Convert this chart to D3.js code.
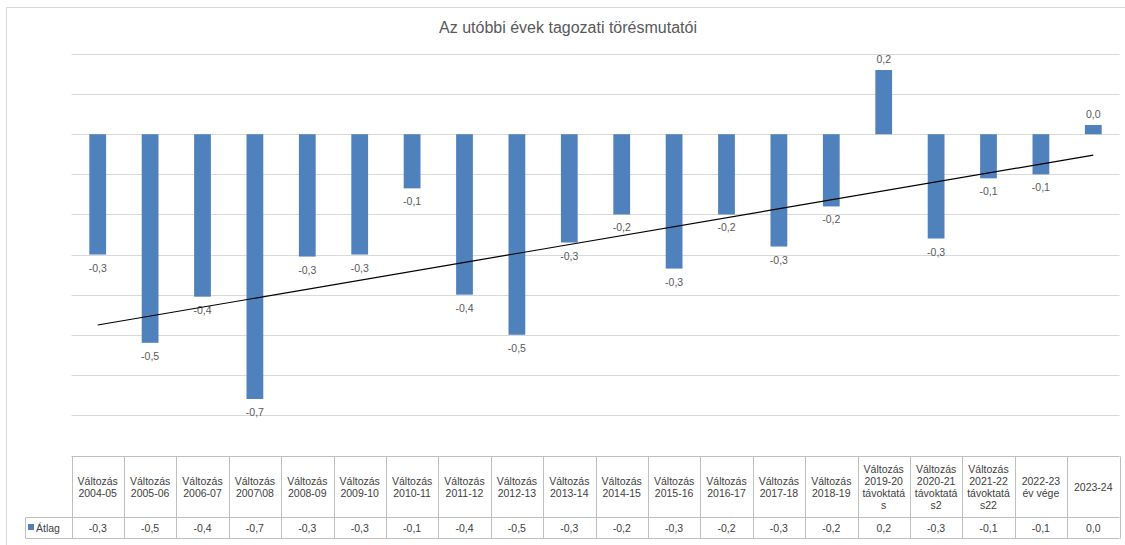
<!DOCTYPE html>
<html>
<head>
<meta charset="utf-8">
<script src="https://cdn.jsdelivr.net/npm/d3@7"></script>
<style>
  body { margin: 0; background: #fff; }
  svg { display: block; font-family: "Liberation Sans", Arial, sans-serif; }
</style>
</head>
<body>
<svg width="1125" height="545"></svg>
<script>
// categories as they appear in the data table (lines split like Excel wraps them)
var categories = [
  ["Változás", "2004-05"], ["Változás", "2005-06"], ["Változás", "2006-07"],
  ["Változás", "2007\\08"], ["Változás", "2008-09"], ["Változás", "2009-10"],
  ["Változás", "2010-11"], ["Változás", "2011-12"], ["Változás", "2012-13"],
  ["Változás", "2013-14"], ["Változás", "2014-15"], ["Változás", "2015-16"],
  ["Változás", "2016-17"], ["Változás", "2017-18"], ["Változás", "2018-19"],
  ["Változás", "2019-20", "távoktatá", "s"],
  ["Változás", "2020-21", "távoktatá", "s2"],
  ["Változás", "2021-22", "távoktatá", "s22"],
  ["2022-23", "év vége"], ["2023-24"]
];

// Átlag series
var atlag = [-0.30, -0.52, -0.405, -0.66, -0.305, -0.30, -0.135, -0.40, -0.50, -0.27,
             -0.20, -0.335, -0.20, -0.28, -0.18, 0.16, -0.26, -0.11, -0.10, 0.023];

var gridTicks = [0.2, 0.1, 0, -0.1, -0.2, -0.3, -0.4, -0.5, -0.6, -0.7];
var seriesName = "Átlag";
var title = "Az utóbbi évek tagozati törésmutatói";

var blue = "#4f81bd",
    grid = "#d9d9d9",
    tableLine = "#bfbfbf",
    labelColor = "#595959";

var svg = d3.select("svg");

var fmt = function(v) { return v.toFixed(1).replace(".", ","); };

var x = d3.scaleBand()
    .domain(d3.range(categories.length))
    .range([71.5, 1119.5])
    .padding(0);

var y = d3.scaleLinear()
    .domain([-0.7, 0.2])
    .range([415, 54]);

// outer chart border (only top and left are visible in the crop)
svg.append("path")
    .attr("d", "M6.5,545 V7.5 H1125")
    .attr("fill", "none")
    .attr("stroke", grid);

// title
svg.append("text")
    .attr("x", 568)
    .attr("y", 33)
    .attr("text-anchor", "middle")
    .attr("font-size", 16)
    .attr("fill", labelColor)
    .text(title);

// gridlines
svg.append("g")
  .selectAll("line")
  .data(gridTicks)
  .join("line")
    .attr("x1", x.range()[0])
    .attr("x2", x.range()[1])
    .attr("y1", function(d) { return Math.round(y(d)) + 0.5; })
    .attr("y2", function(d) { return Math.round(y(d)) + 0.5; })
    .attr("stroke", grid);

// bars
var barW = x.bandwidth() * 0.32;
svg.append("g")
  .selectAll("rect")
  .data(atlag)
  .join("rect")
    .attr("x", function(d, i) { return x(i) + x.bandwidth() / 2 - barW / 2; })
    .attr("width", barW)
    .attr("y", function(d) { return y(Math.max(0, d)); })
    .attr("height", function(d) { return Math.abs(y(d) - y(0)); })
    .attr("fill", blue);

// data labels
svg.append("g")
  .selectAll("text")
  .data(atlag)
  .join("text")
    .attr("x", function(d, i) { return x(i) + x.bandwidth() / 2; })
    .attr("y", function(d) { return d < 0 ? y(d) + 17 : y(d) - 7; })
    .attr("text-anchor", "middle")
    .attr("font-size", 10.5)
    .attr("fill", labelColor)
    .text(fmt);

// linear trendline (least squares on category index)
var n = atlag.length,
    xs = d3.range(1, n + 1),
    mx = d3.mean(xs),
    my = d3.mean(atlag),
    slope = d3.sum(xs, function(v, i) { return (v - mx) * (atlag[i] - my); }) /
            d3.sum(xs, function(v) { return (v - mx) * (v - mx); }),
    icpt = my - slope * mx;

var trend = [0, n - 1].map(function(i) { return [x(i) + x.bandwidth() / 2, y(icpt + slope * (i + 1))]; });
svg.append("path")
    .attr("d", d3.line()(trend))
    .attr("fill", "none")
    .attr("stroke", "#000")
    .attr("stroke-width", 1.2);

// data table
var tTop = 456.5, tMid = 517.5, tBot = 538.5, keyLeft = 25.5;
var table = svg.append("g")
    .attr("stroke", tableLine)
    .attr("fill", "none");

table.append("line").attr("x1", x.range()[0]).attr("x2", x.range()[1]).attr("y1", tTop).attr("y2", tTop);
table.append("line").attr("x1", keyLeft).attr("x2", x.range()[1]).attr("y1", tMid).attr("y2", tMid);
table.append("line").attr("x1", keyLeft).attr("x2", x.range()[1]).attr("y1", tBot).attr("y2", tBot);
table.append("line").attr("x1", keyLeft).attr("x2", keyLeft).attr("y1", tMid).attr("y2", tBot);
table.selectAll(".col")
  .data(d3.range(n + 1))
  .join("line")
    .attr("x1", function(i) { return Math.round(x.range()[0] + i * x.step()) + 0.5; })
    .attr("x2", function(i) { return Math.round(x.range()[0] + i * x.step()) + 0.5; })
    .attr("y1", tTop)
    .attr("y2", tBot);

var lineH = 12;
var heads = svg.append("g")
    .attr("font-size", 10.5)
    .attr("fill", "#404040")
    .attr("text-anchor", "middle");

heads.selectAll("text")
  .data(categories)
  .join("text")
    .attr("x", function(d, i) { return x(i) + x.bandwidth() / 2; })
    .attr("y", function(d) { return (tTop + tMid) / 2 - (d.length - 1) * lineH / 2 + 4; })
    .each(function(d) {
      var t = d3.select(this);
      d.forEach(function(s, k) {
        t.append("tspan")
          .attr("x", t.attr("x"))
          .attr("dy", k === 0 ? 0 : lineH)
          .text(s);
      });
    });

svg.append("g")
    .attr("font-size", 10.5)
    .attr("fill", "#404040")
    .attr("text-anchor", "middle")
  .selectAll("text")
  .data(atlag)
  .join("text")
    .attr("x", function(d, i) { return x(i) + x.bandwidth() / 2; })
    .attr("y", (tMid + tBot) / 2 + 4)
    .text(fmt);

// legend key in table row
svg.append("rect")
    .attr("x", 28)
    .attr("y", 524)
    .attr("width", 6)
    .attr("height", 6)
    .attr("fill", blue);
svg.append("text")
    .attr("x", 36)
    .attr("y", (tMid + tBot) / 2 + 4)
    .attr("font-size", 10.5)
    .attr("fill", "#404040")
    .text(seriesName);
</script>
</body>
</html>
